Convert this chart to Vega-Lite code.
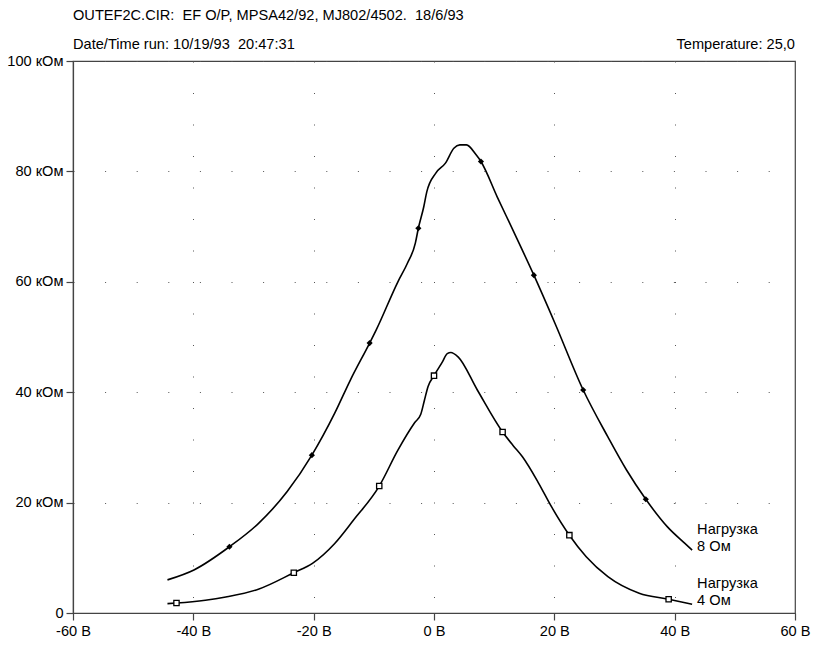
{
  "$schema": "https://vega.github.io/schema/vega-lite/v6.json",
  "width": 722,
  "height": 552,
  "autosize": "none",
  "padding": {"left": 73, "top": 61, "right": 19, "bottom": 37},
  "background": "white",
  "title": {
    "text": "OUTEF2C.CIR:\u00a0 EF O/P, MPSA42/92, MJ802/4502.\u00a0 18/6/93",
    "subtitle": "Date/Time run: 10/19/93\u00a0 20:47:31",
    "anchor": "start",
    "frame": "group",
    "font": "Liberation Sans, Arial, sans-serif",
    "fontSize": 14.6,
    "fontWeight": "normal",
    "color": "black",
    "subtitleFont": "Liberation Sans, Arial, sans-serif",
    "subtitleFontSize": 14.6,
    "subtitleColor": "black",
    "subtitlePadding": 15,
    "offset": -15
  },
  "config": {
    "view": {"stroke": "#444", "strokeWidth": 1.2},
    "font": "Liberation Sans, Arial, sans-serif",
    "axis": {
      "labelFont": "Liberation Sans, Arial, sans-serif",
      "labelFontSize": 14.6,
      "labelColor": "black",
      "labelFlush": false,
      "labelOverlap": false,
      "domainColor": "#444",
      "domainWidth": 1.2,
      "tickColor": "#444",
      "tickSize": 7,
      "tickWidth": 1.2,
      "labelPadding": 3,
      "gridColor": "#555",
      "gridWidth": 1,
      "title": null
    }
  },
  "datasets": {
    "curves": [
      {"series": "8 Ом", "v": -44.3, "r": 6.0, "marker": false},
      {"series": "8 Ом", "v": -39.9, "r": 7.8, "marker": false},
      {"series": "8 Ом", "v": -34.0, "r": 12.0, "marker": true},
      {"series": "8 Ом", "v": -29.2, "r": 16.2, "marker": false},
      {"series": "8 Ом", "v": -24.4, "r": 22.0, "marker": false},
      {"series": "8 Ом", "v": -20.3, "r": 28.6, "marker": true},
      {"series": "8 Ом", "v": -16.5, "r": 36.2, "marker": false},
      {"series": "8 Ом", "v": -13.9, "r": 42.2, "marker": false},
      {"series": "8 Ом", "v": -10.7, "r": 48.9, "marker": true},
      {"series": "8 Ом", "v": -9.6, "r": 51.3, "marker": false},
      {"series": "8 Ом", "v": -6.0, "r": 60.0, "marker": false},
      {"series": "8 Ом", "v": -4.4, "r": 63.4, "marker": false},
      {"series": "8 Ом", "v": -3.1, "r": 67.0, "marker": false},
      {"series": "8 Ом", "v": -2.6, "r": 69.7, "marker": true},
      {"series": "8 Ом", "v": -1.7, "r": 73.6, "marker": false},
      {"series": "8 Ом", "v": -1.2, "r": 76.3, "marker": false},
      {"series": "8 Ом", "v": 0.3, "r": 79.7, "marker": false},
      {"series": "8 Ом", "v": 1.9, "r": 81.5, "marker": false},
      {"series": "8 Ом", "v": 3.3, "r": 84.2, "marker": false},
      {"series": "8 Ом", "v": 4.3, "r": 84.8, "marker": false},
      {"series": "8 Ом", "v": 5.4, "r": 84.8, "marker": false},
      {"series": "8 Ом", "v": 7.0, "r": 83.0, "marker": false},
      {"series": "8 Ом", "v": 7.8, "r": 81.8, "marker": true},
      {"series": "8 Ом", "v": 10.5, "r": 75.4, "marker": false},
      {"series": "8 Ом", "v": 13.1, "r": 69.4, "marker": false},
      {"series": "8 Ом", "v": 16.6, "r": 61.2, "marker": true},
      {"series": "8 Ом", "v": 20.1, "r": 52.5, "marker": false},
      {"series": "8 Ом", "v": 24.8, "r": 40.4, "marker": true},
      {"series": "8 Ом", "v": 28.9, "r": 31.9, "marker": false},
      {"series": "8 Ом", "v": 32.0, "r": 25.9, "marker": false},
      {"series": "8 Ом", "v": 35.2, "r": 20.6, "marker": true},
      {"series": "8 Ом", "v": 38.8, "r": 15.6, "marker": false},
      {"series": "8 Ом", "v": 41.7, "r": 12.6, "marker": false},
      {"series": "8 Ом", "v": 42.9, "r": 11.4, "marker": false},
      {"series": "4 Ом", "v": -44.3, "r": 1.7, "marker": false},
      {"series": "4 Ом", "v": -42.8, "r": 1.8, "marker": true},
      {"series": "4 Ом", "v": -38.0, "r": 2.3, "marker": false},
      {"series": "4 Ом", "v": -34.6, "r": 2.9, "marker": false},
      {"series": "4 Ом", "v": -29.2, "r": 4.3, "marker": false},
      {"series": "4 Ом", "v": -23.3, "r": 7.3, "marker": true},
      {"series": "4 Ом", "v": -20.2, "r": 9.0, "marker": false},
      {"series": "4 Ом", "v": -16.5, "r": 12.6, "marker": false},
      {"series": "4 Ом", "v": -13.4, "r": 16.8, "marker": false},
      {"series": "4 Ом", "v": -9.1, "r": 23.0, "marker": true},
      {"series": "4 Ом", "v": -6.0, "r": 29.5, "marker": false},
      {"series": "4 Ом", "v": -3.2, "r": 34.5, "marker": false},
      {"series": "4 Ом", "v": -2.2, "r": 36.0, "marker": false},
      {"series": "4 Ом", "v": -1.6, "r": 38.5, "marker": false},
      {"series": "4 Ом", "v": -1.0, "r": 41.0, "marker": false},
      {"series": "4 Ом", "v": 0.0, "r": 43.0, "marker": true},
      {"series": "4 Ом", "v": 1.4, "r": 45.5, "marker": false},
      {"series": "4 Ом", "v": 2.2, "r": 47.0, "marker": false},
      {"series": "4 Ом", "v": 2.8, "r": 47.2, "marker": false},
      {"series": "4 Ом", "v": 4.0, "r": 46.4, "marker": false},
      {"series": "4 Ом", "v": 7.2, "r": 40.4, "marker": false},
      {"series": "4 Ом", "v": 11.4, "r": 32.8, "marker": true},
      {"series": "4 Ом", "v": 13.1, "r": 30.4, "marker": false},
      {"series": "4 Ом", "v": 14.7, "r": 28.3, "marker": false},
      {"series": "4 Ом", "v": 17.4, "r": 23.5, "marker": false},
      {"series": "4 Ом", "v": 19.5, "r": 19.3, "marker": false},
      {"series": "4 Ом", "v": 22.5, "r": 14.1, "marker": true},
      {"series": "4 Ом", "v": 25.3, "r": 10.2, "marker": false},
      {"series": "4 Ом", "v": 28.9, "r": 6.6, "marker": false},
      {"series": "4 Ом", "v": 34.1, "r": 3.6, "marker": false},
      {"series": "4 Ом", "v": 39.0, "r": 2.5, "marker": true},
      {"series": "4 Ом", "v": 42.9, "r": 1.6, "marker": false}
    ],
    "labels": [
      {"series": "8 Ом", "v": 42.9, "r": 11.4, "label": "Нагрузка\n8 Ом"},
      {"series": "4 Ом", "v": 42.9, "r": 1.6, "label": "Нагрузка\n4 Ом"}
    ]
  },
  "layer": [
    {
      "data": {"name": "curves"},
      "mark": {"type": "line", "interpolate": "monotone", "color": "black", "strokeWidth": 1.6},
      "encoding": {
        "x": {
          "field": "v", "type": "quantitative",
          "scale": {"domain": [-60, 60], "nice": false, "zero": false},
          "axis": {
            "values": [-60, -40, -20, 0, 20, 40, 60],
            "labelExpr": "datum.value + ' В'",
            "grid": true,
            "gridDash": [1, 30.5]
          }
        },
        "y": {
          "field": "r", "type": "quantitative",
          "scale": {"domain": [0, 100], "nice": false},
          "axis": {
            "values": [0, 20, 40, 60, 80, 100],
            "labelExpr": "datum.value == 0 ? '0' : datum.value + ' кОм'",
            "grid": true,
            "gridDash": [1, 30.6]
          }
        },
        "detail": {"field": "series"}
      }
    },
    {
      "data": {"name": "curves"},
      "transform": [{"filter": "datum.marker && datum.series == '4 Ом'"}],
      "mark": {"type": "point", "shape": "square", "filled": true, "fill": "white", "stroke": "black", "strokeWidth": 1.3, "size": 28, "opacity": 1},
      "encoding": {
        "x": {"field": "v", "type": "quantitative"},
        "y": {"field": "r", "type": "quantitative"}
      }
    },
    {
      "data": {"name": "curves"},
      "transform": [{"filter": "datum.marker && datum.series == '8 Ом'"}],
      "mark": {"type": "point", "shape": "diamond", "filled": true, "color": "black", "size": 38, "opacity": 1},
      "encoding": {
        "x": {"field": "v", "type": "quantitative"},
        "y": {"field": "r", "type": "quantitative"}
      }
    },
    {
      "data": {"name": "labels"},
      "mark": {"type": "text", "align": "left", "baseline": "bottom", "dx": 5, "dy": -13, "lineBreak": "\n", "lineHeight": 17, "fontSize": 14.6, "color": "black"},
      "encoding": {
        "x": {"field": "v", "type": "quantitative"},
        "y": {"field": "r", "type": "quantitative"},
        "text": {"field": "label"}
      }
    },
    {
      "data": {"values": [{"label": "Temperature: 25,0"}]},
      "mark": {"type": "text", "align": "right", "baseline": "alphabetic", "dy": -12, "fontSize": 14.6, "color": "black"},
      "encoding": {
        "x": {"datum": 60, "type": "quantitative"},
        "y": {"datum": 100, "type": "quantitative"},
        "text": {"field": "label"}
      }
    }
  ]
}
